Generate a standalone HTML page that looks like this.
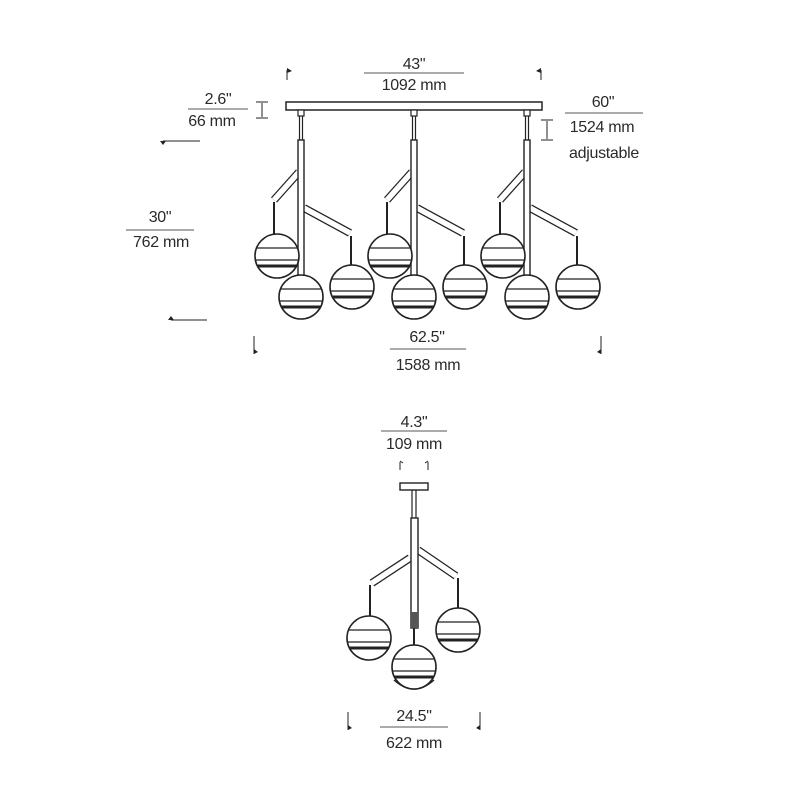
<!DOCTYPE html>
<html><head><meta charset="utf-8"><style>
body{margin:0;background:#fff}
svg{display:block}
text{font-family:"Liberation Sans",sans-serif;font-size:16px;fill:#2a2a2a;text-anchor:middle;letter-spacing:-0.3px}
</style></head><body>
<svg width="800" height="800" viewBox="0 0 800 800" xmlns="http://www.w3.org/2000/svg">
<defs>
<g id="globe">
<circle cx="0" cy="0" r="22" fill="#fff" stroke="#222" stroke-width="1.6"/>
<line x1="-20" y1="-8" x2="20" y2="-8" stroke="#222" stroke-width="1.2"/>
<line x1="-21.5" y1="4" x2="21.5" y2="4" stroke="#222" stroke-width="1.2"/>
<line x1="-20" y1="10" x2="20" y2="10" stroke="#222" stroke-width="3"/>
</g>
<g id="cl">
<rect x="-3" y="110" width="6" height="6" fill="#fff" stroke="#222" stroke-width="1.2"/>
<line x1="-1.5" y1="116" x2="-1.5" y2="140" stroke="#222" stroke-width="1.2"/>
<line x1="1.5" y1="116" x2="1.5" y2="140" stroke="#222" stroke-width="1.2"/>
<line x1="-2" y1="172" x2="-27" y2="200" stroke="#222" stroke-width="8"/>
<line x1="-2" y1="172" x2="-27" y2="200" stroke="#fff" stroke-width="5.5"/>
<line x1="-27" y1="202" x2="-27" y2="234" stroke="#222" stroke-width="2"/>
<line x1="3" y1="208" x2="49" y2="233" stroke="#222" stroke-width="8"/>
<line x1="3" y1="208" x2="49" y2="233" stroke="#fff" stroke-width="5.5"/>
<line x1="50" y1="236" x2="50" y2="265" stroke="#222" stroke-width="2"/>
<rect x="-3" y="140" width="6" height="142" fill="#fff" stroke="#222" stroke-width="1.4"/>
<use href="#globe" x="-24" y="256"/>
<use href="#globe" x="0" y="297"/>
<use href="#globe" x="51" y="287"/>
</g>
</defs>
<rect x="286" y="102" width="256" height="8" fill="#fff" stroke="#222" stroke-width="1.5"/>
<use href="#cl" x="301" y="0"/>
<use href="#cl" x="414" y="0"/>
<use href="#cl" x="527" y="0"/>

<text x="414" y="69">43"</text>
<line x1="364" y1="73" x2="464" y2="73" stroke="#555" stroke-width="1"/>
<text x="414" y="90">1092 mm</text>
<line x1="287" y1="70" x2="287" y2="80" stroke="#222"/><path d="M287 68 l5 3 -5 2z" fill="#222"/>
<line x1="541" y1="70" x2="541" y2="80" stroke="#222"/><path d="M541 68 l-5 3 5 2z" fill="#222"/>

<text x="218" y="104">2.6"</text>
<line x1="188" y1="109" x2="248" y2="109" stroke="#555"/>
<text x="212" y="126">66 mm</text>
<path d="M256 102 h12 M256 118 h12 M262 103 v14" stroke="#222" fill="none"/>
<line x1="163" y1="141" x2="200" y2="141" stroke="#222"/><path d="M160 141 l3 4 3-4z" fill="#222"/>

<text x="603" y="107">60"</text>
<line x1="565" y1="113" x2="643" y2="113" stroke="#555"/>
<text x="602" y="132">1524 mm</text>
<text x="604" y="158">adjustable</text>
<path d="M541 120 h12 M541 140 h12 M547 121 v18" stroke="#222" fill="none"/>

<text x="160" y="222">30"</text>
<line x1="126" y1="230" x2="194" y2="230" stroke="#555"/>
<text x="161" y="247">762 mm</text>
<line x1="171" y1="320" x2="207" y2="320" stroke="#222"/><path d="M168 320 l3-4 3 4z" fill="#222"/>

<text x="427" y="342">62.5"</text>
<line x1="390" y1="349" x2="466" y2="349" stroke="#555"/>
<text x="428" y="370">1588 mm</text>
<line x1="254" y1="336" x2="254" y2="354" stroke="#222"/><path d="M254 354 l4-2 -4-3z" fill="#222"/>
<line x1="601" y1="336" x2="601" y2="354" stroke="#222"/><path d="M601 354 l-4-2 4-3z" fill="#222"/>

<text x="414" y="427">4.3"</text>
<line x1="381" y1="431" x2="447" y2="431" stroke="#555"/>
<text x="414" y="449">109 mm</text>
<path d="M400 462 v8 M400 461 l3 2 M428 462 v8 M428 461 l-3 2" stroke="#222" fill="none"/>
<rect x="400" y="483" width="28" height="7" fill="#fff" stroke="#222" stroke-width="1.4"/>
<line x1="412" y1="490" x2="412" y2="518" stroke="#222" stroke-width="1.2"/>
<line x1="416" y1="490" x2="416" y2="518" stroke="#222" stroke-width="1.2"/>
<line x1="410" y1="558" x2="372" y2="583" stroke="#222" stroke-width="8"/>
<line x1="410" y1="558" x2="372" y2="583" stroke="#fff" stroke-width="5.5"/>
<line x1="370" y1="585" x2="370" y2="616" stroke="#222" stroke-width="2"/>
<line x1="418" y1="550" x2="456" y2="576" stroke="#222" stroke-width="8"/>
<line x1="418" y1="550" x2="456" y2="576" stroke="#fff" stroke-width="5.5"/>
<line x1="458" y1="578" x2="458" y2="608" stroke="#222" stroke-width="2"/>
<rect x="411" y="518" width="7" height="110" fill="#fff" stroke="#222" stroke-width="1.4"/>
<rect x="411" y="612" width="7" height="16" fill="#555"/>
<line x1="414" y1="628" x2="414" y2="648" stroke="#222" stroke-width="2"/>
<use href="#globe" x="369" y="638"/>
<use href="#globe" x="458" y="630"/>
<path d="M394 680 q20 18 40 0" fill="none" stroke="#222" stroke-width="1.4"/>
<use href="#globe" x="414" y="667"/>

<text x="414" y="721">24.5"</text>
<line x1="380" y1="727" x2="448" y2="727" stroke="#555"/>
<text x="414" y="748">622 mm</text>
<line x1="348" y1="712" x2="348" y2="730" stroke="#222"/><path d="M348 730 l4-2 -4-3z" fill="#222"/>
<line x1="480" y1="712" x2="480" y2="730" stroke="#222"/><path d="M480 730 l-4-2 4-3z" fill="#222"/>
</svg>
</body></html>
